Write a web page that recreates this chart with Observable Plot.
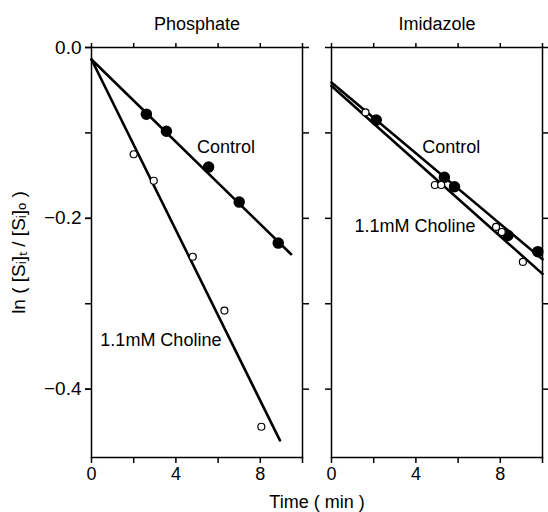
<!DOCTYPE html>
<html>
<head>
<meta charset="utf-8">
<script src="https://cdn.jsdelivr.net/npm/d3@7"></script>
<script src="https://cdn.jsdelivr.net/npm/@observablehq/plot@0.6"></script>
<style>
  html, body { margin: 0; padding: 0; background: #fff; }
  #chart svg { display: block; }
</style>
</head>
<body>
<div id="chart"></div>
<script>
// Panels
const panels = ["Phosphate", "Imidazole"];

// Phosphate buffer
const phosControlT = [2.6, 3.55, 5.55, 7.0, 8.85];
const phosControlY = [-0.078, -0.098, -0.140, -0.181, -0.229];
const phosCholineT = [2.0, 2.95, 4.8, 6.3, 8.05];
const phosCholineY = [-0.125, -0.156, -0.245, -0.308, -0.444];

// Imidazole buffer
const imidControlT = [2.12, 5.35, 5.83, 8.36, 9.78];
const imidControlY = [-0.085, -0.152, -0.163, -0.220, -0.239];
const imidCholineT = [1.61, 4.9, 5.2, 7.8, 8.07, 9.07];
const imidCholineY = [-0.076, -0.161, -0.161, -0.210, -0.216, -0.251];

// Fitted lines (endpoints)
const phosControlLineT = [0, 9.46];
const phosControlLineY = [-0.014, -0.242];
const phosCholineLineT = [0, 8.93];
const phosCholineLineY = [-0.014, -0.460];
const imidControlLineT = [0, 10];
const imidControlLineY = [-0.041, -0.248];
const imidCholineLineT = [0, 10];
const imidCholineLineY = [-0.045, -0.265];

// Annotation labels
const labelPanel = ["Phosphate", "Phosphate", "Imidazole", "Imidazole"];
const labelText = ["Control", "1.1mM Choline", "Control", "1.1mM Choline"];
const labelT = [5.0, 0.42, 4.3, 1.09];
const labelY = [-0.117, -0.343, -0.117, -0.209];

// Axis ticks
const xTicks = [0, 2, 4, 6, 8, 10];
const xTickLabels = [0, 4, 8];
const yTicks = [0, -0.1, -0.2, -0.3, -0.4];
const yTickLabels = [0, -0.2, -0.4];

const yLabel = "ln ( [Sᵢ]ₜ / [Sᵢ]ₒ )";
const xLabel = "Time ( min )";

function rows(panel, group, T, Y) {
  return T.map((t, i) => ({panel, group, t, y: Y[i]}));
}

const filled = [
  ...rows("Phosphate", "Control", phosControlT, phosControlY),
  ...rows("Imidazole", "Control", imidControlT, imidControlY)
];
const open = [
  ...rows("Phosphate", "Choline", phosCholineT, phosCholineY),
  ...rows("Imidazole", "Choline", imidCholineT, imidCholineY)
];
const lines = [
  ...rows("Phosphate", "Control", phosControlLineT, phosControlLineY),
  ...rows("Phosphate", "Choline", phosCholineLineT, phosCholineLineY),
  ...rows("Imidazole", "Control", imidControlLineT, imidControlLineY),
  ...rows("Imidazole", "Choline", imidCholineLineT, imidCholineLineY)
];
const labels = labelText.map((text, i) => ({panel: labelPanel[i], text, t: labelT[i], y: labelY[i]}));

const font = "'Liberation Sans', Arial, Helvetica, sans-serif";

const chart = Plot.plot({
  width: 548,
  height: 512,
  marginLeft: 91,
  marginRight: 5,
  marginTop: 47,
  marginBottom: 55,
  style: {fontFamily: font, fontSize: "17px", color: "#000", background: "#fff"},
  fx: {domain: panels, paddingInner: 0.12, paddingOuter: 0},
  x: {domain: [0, 10]},
  y: {domain: [-0.48, 0]},
  marks: [
    Plot.frame({stroke: "#000", strokeWidth: 1.5}),
    Plot.axisFx({anchor: "top", tickSize: 0, tickPadding: 18, fontSize: 18, label: null}),
    Plot.axisFx({anchor: "bottom", tickSize: 0, tickFormat: () => "", label: xLabel,
                 labelAnchor: "center", labelOffset: 50, labelArrow: "none", fontSize: 18}),
    Plot.axisX({anchor: "bottom", ticks: xTicks, tickSize: 6, tickPadding: 4, strokeWidth: 1.5,
                tickFormat: d => xTickLabels.includes(d) ? String(d) : "", label: null, fontSize: 18}),
    Plot.axisX({anchor: "top", ticks: xTicks, tickSize: 5, strokeWidth: 1.5,
                tickFormat: () => "", label: null}),
    Plot.axisY({anchor: "left", facetAnchor: null, ticks: yTicks, tickSize: 6, strokeWidth: 1.5,
                tickFormat: () => "", label: null}),
    Plot.axisY({anchor: "right", facetAnchor: null, ticks: yTicks, tickSize: 6, strokeWidth: 1.5,
                tickFormat: () => "", label: null}),
    Plot.axisY({anchor: "left", ticks: yTickLabels, tickSize: 6, tickPadding: 4, strokeWidth: 1.5,
                tickFormat: d3.format(".1f"), label: yLabel, labelAnchor: "center",
                labelOffset: 80, labelArrow: "none", fontSize: 19}),
    Plot.line(lines, {fx: "panel", x: "t", y: "y", z: "group", stroke: "#000", strokeWidth: 2.6}),
    Plot.dot(filled, {fx: "panel", x: "t", y: "y", r: 5, fill: "#000", stroke: "#000"}),
    Plot.dot(open, {fx: "panel", x: "t", y: "y", r: 3.5, fill: "#fff", stroke: "#000", strokeWidth: 1.2}),
    Plot.text(labels, {fx: "panel", x: "t", y: "y", text: "text", textAnchor: "start",
                       fontSize: 18, fill: "#000"})
  ]
});

document.getElementById("chart").appendChild(chart);
</script>
</body>
</html>
